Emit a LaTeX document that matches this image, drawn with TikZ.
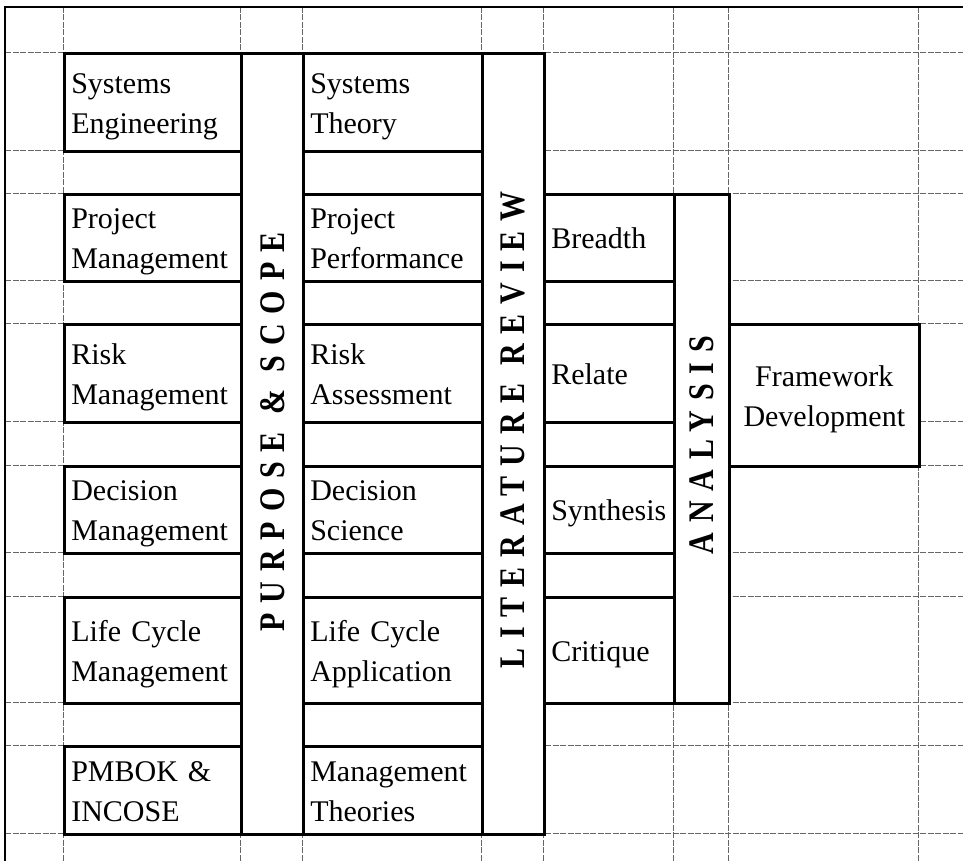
\documentclass[tikz,border=0pt]{standalone}
\usepackage{fontspec}
\setmainfont{Liberation Serif}
\newfontfamily\lblfont[LetterSpace=33]{Liberation Serif}
\newcommand\cstrut{\rule[-8pt]{0pt}{38pt}}
\begin{document}
\begin{tikzpicture}[x=1pt,y=-1pt,
  gridline/.style={draw=black!60, line width=0.7pt, dash pattern=on 6pt off 1.5pt},
  frameline/.style={draw=black, line width=2pt},
  cell/.style={draw=black, line width=2.6pt, fill=white, anchor=north west,
    inner xsep=7pt, inner ysep=0pt, align=left,
    font=\fontsize{30}{40}\selectfont,
    execute at begin node=\cstrut, execute at end node=\cstrut},
  ccell/.style={cell, align=center},
  column/.style={draw=black, line width=2.6pt, fill=white, anchor=north west, inner sep=0pt},
  vlabel/.style={rotate=90, inner sep=0pt, font=\lblfont\bfseries\fontsize{30}{30}\selectfont}
]
\useasboundingbox (0,0) rectangle (963,861);
% dashed grid
\foreach \yy in {52,150,193,280,323,421,465,552,596,702,745,833}
  \draw[gridline] (5,\yy) -- (963,\yy);
\foreach \xx in {63,240,302,481,543,673,728,918}
  \draw[gridline] (\xx,7) -- (\xx,861);
% outer frame (top and left)
\draw[frameline] (963,7) -- (5,7) -- (5,861);

% tall columns
\node[column, minimum width=62pt, minimum height=781pt] (ps) at (240,52) {};
\node[column, minimum width=62pt, minimum height=781pt] (lr) at (481,52) {};
\node[column, minimum width=55pt, minimum height=509pt] (an) at (673,193) {};

% column 1
\node[cell, minimum width=177pt, minimum height=98pt, text width=163pt] (se) at (63,52) {Systems\\Engineering};
\node[cell, minimum width=177pt, minimum height=87pt, text width=163pt] (pm) at (63,193) {Project\\Management};
\node[cell, minimum width=177pt, minimum height=98pt, text width=163pt] (rm) at (63,323) {Risk\\Management};
\node[cell, minimum width=177pt, minimum height=87pt, text width=163pt] (dm) at (63,465) {Decision\\Management};
\node[cell, minimum width=177pt, minimum height=106pt, text width=163pt] (lcm) at (63,596) {Life Cycle\\Management};
\node[cell, minimum width=177pt, minimum height=88pt, text width=163pt] (pmb) at (63,745) {PMBOK \&\\INCOSE};

% column 2
\node[cell, minimum width=179pt, minimum height=98pt, text width=165pt] (st) at (302,52) {Systems\\Theory};
\node[cell, minimum width=179pt, minimum height=87pt, text width=165pt] (pp) at (302,193) {Project\\Performance};
\node[cell, minimum width=179pt, minimum height=98pt, text width=165pt] (ra) at (302,323) {Risk\\Assessment};
\node[cell, minimum width=179pt, minimum height=87pt, text width=165pt] (ds) at (302,465) {Decision\\Science};
\node[cell, minimum width=179pt, minimum height=106pt, text width=165pt] (lca) at (302,596) {Life Cycle\\Application};
\node[cell, minimum width=179pt, minimum height=88pt, text width=165pt] (mt) at (302,745) {Management\\Theories};

% column 3
\node[cell, minimum width=130pt, minimum height=87pt, text width=116pt] (br) at (543,193) {Breadth};
\node[cell, minimum width=130pt, minimum height=98pt, text width=116pt] (rel) at (543,323) {Relate};
\node[cell, minimum width=130pt, minimum height=87pt, text width=116pt] (syn) at (543,465) {Synthesis};
\node[cell, minimum width=130pt, minimum height=106pt, text width=116pt] (cri) at (543,596) {Critique};

% framework
\node[ccell, minimum width=190pt, minimum height=142pt, text width=176pt] (fd) at (728,323) {Framework\\Development};

% vertical labels
\node[vlabel] (pslbl) at (ps.center |- 0,432) {\scalebox{1}[1.2]{PURPOSE \& SCOPE}};
\node[vlabel] (lrlbl) at (lr.center |- 0,430) {\scalebox{1}[1.2]{LITERATURE REVIEW}};
\node[vlabel] (anlbl) at (an.center |- 0,445) {\scalebox{1}[1.2]{ANALYSIS}};
\end{tikzpicture}
\end{document}
